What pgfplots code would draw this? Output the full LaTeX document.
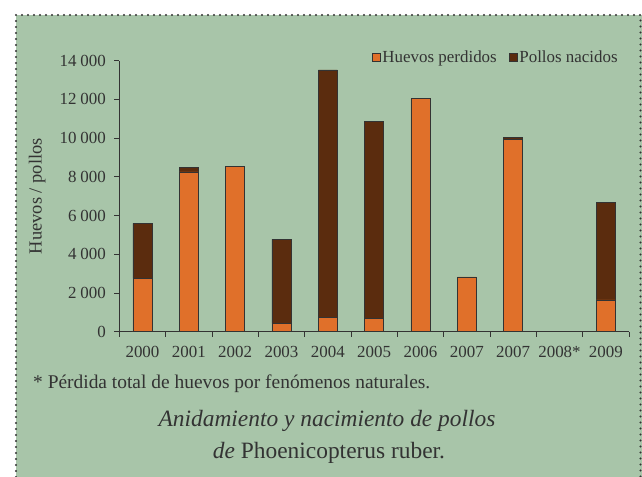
\documentclass[border=0pt]{standalone}
\usepackage{fontspec}
\setmainfont{Liberation Serif}
\usepackage{pgfplots}
\usepackage{pgfplotstable}
\pgfplotsset{compat=1.18}
\definecolor{panelgreen}{HTML}{A8C5A9}
\definecolor{huevos}{HTML}{E0702A}
\definecolor{pollos}{HTML}{5B2C0E}
\definecolor{ink}{HTML}{333333}
\newcommand\chartfont{\fontsize{17}{20}\selectfont}
\newcommand\notefont{\fontsize{19.5}{23}\selectfont}
\newcommand\titlefont{\fontsize{23.5}{27}\selectfont}

% huevos perdidos / pollos nacidos, one row per bar
\pgfplotstableread{
idx huevos pollos
0   2760   2840
1   8250   245
2   8550   0
3   430    4340
4   740    12780
5   690    10190
6   12050  0
7   2830   0
8   9940   100
9   0      0
10  1640   5020
}\nidos

\begin{document}
\begin{tikzpicture}[x=1bp,y=1bp]
\useasboundingbox (0,0) rectangle (642,477);
\fill[white] (0,0) rectangle (642,477);
\fill[panelgreen] (16,0) rectangle (642,462);
\draw[ink, line width=2.3bp, line cap=round, dash pattern=on 0bp off 6bp]
  (16,0) -- (16,462) -- (640.5,462) -- (640.5,0);
\begin{axis}[
  at={(119.3bp,145.3bp)}, anchor=south west,
  scale only axis, width=509.7bp, height=271bp,
  xmin=-0.5, xmax=10.5, ymin=0, ymax=14000,
  ybar stacked, bar width=19bp,
  axis x line*=bottom, axis y line*=left,
  axis line style={ink, line width=1bp},
  xtick={-0.5,0.5,1.5,2.5,3.5,4.5,5.5,6.5,7.5,8.5,9.5,10.5},
  x tick label as interval,
  xticklabels={2000,2001,2002,2003,2004,2005,2006,2007,2007,2008*,2009},
  ytick={0,2000,4000,6000,8000,10000,12000,14000},
  scaled y ticks=false,
  /pgf/number format/1000 sep={\hspace{0.22em}},
  /pgf/number format/assume math mode=true,
  tick align=outside, major tick length=5bp,
  tick style={ink, line width=0.9bp},
  ticklabel style={font=\chartfont, text=ink},
  xticklabel style={yshift=-6bp},
  yticklabel style={xshift=-5bp},
  ylabel={Huevos / pollos},
  ylabel style={at={(axis description cs:-0.161,0.5)}, anchor=center,
    font=\fontsize{18.5}{22}\selectfont, text=ink},
  legend columns=2,
  legend style={at={(0.988,1.014)}, anchor=east, draw=none, fill=none,
    font=\chartfont, text=ink,
    /tikz/every even column/.append style={column sep=10bp}},
  legend image code/.code={\draw[#1, draw=ink, line width=0.6bp] (0bp,-4bp) rectangle (8bp,4bp);},
]
\addplot[fill=huevos, draw=ink, line width=0.8bp] table[x=idx, y=huevos] {\nidos};
\addplot[fill=pollos, draw=ink, line width=0.8bp] table[x=idx, y=pollos] {\nidos};
\legend{Huevos perdidos, Pollos nacidos}
\end{axis}
\node[anchor=base west, font=\notefont, text=ink, inner sep=0] at (33,88)
  {* Pérdida total de huevos por fenómenos naturales.};
\node[anchor=base, font=\titlefont, text=ink, inner sep=0] at (327,50)
  {\itshape Anidamiento y nacimiento de pollos};
\node[anchor=base, font=\titlefont, text=ink, inner sep=0] at (329,18)
  {\textit{de} Phoenicopterus ruber.};
\end{tikzpicture}
\end{document}
